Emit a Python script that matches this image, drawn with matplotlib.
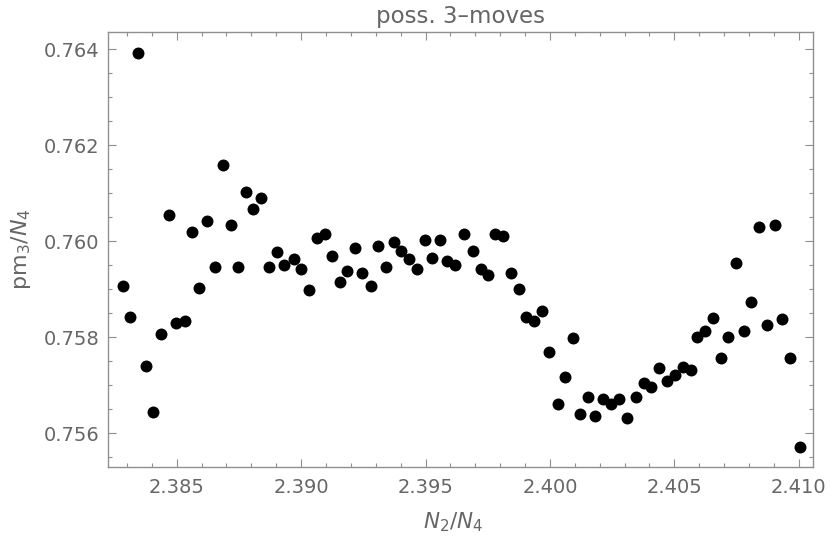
import matplotlib
matplotlib.use("Agg")
import matplotlib.pyplot as plt
from matplotlib.ticker import MultipleLocator, FormatStrFormatter

# data (N2/N4 vs pm3/N4)
n2_over_n4 = [
    2.38283, 2.38312, 2.38346, 2.38377, 2.38406, 2.38437, 2.38468, 2.38498,
    2.38532, 2.38560, 2.38591, 2.38622, 2.38654, 2.38686, 2.38717, 2.38746,
    2.38777, 2.38808, 2.38839, 2.38871, 2.38902, 2.38931, 2.38970, 2.39001,
    2.39032, 2.39063, 2.39095, 2.39126, 2.39157, 2.39186, 2.39217, 2.39246,
    2.39280, 2.39311, 2.39342, 2.39373, 2.39403, 2.39434, 2.39465, 2.39497,
    2.39528, 2.39559, 2.39588, 2.39620, 2.39655, 2.39690, 2.39721, 2.39752,
    2.39780, 2.39813, 2.39843, 2.39875, 2.39905, 2.39937, 2.39968, 2.39998,
    2.40031, 2.40061, 2.40092, 2.40122, 2.40154, 2.40183, 2.40215, 2.40245,
    2.40277, 2.40308, 2.40347, 2.40378, 2.40408, 2.40439, 2.40470, 2.40501,
    2.40533, 2.40565, 2.40592, 2.40624, 2.40655, 2.40686, 2.40717, 2.40749,
    2.40778, 2.40809, 2.40841, 2.40872, 2.40903, 2.40934, 2.40965, 2.41003,
]
pm3_over_n4 = [
    0.75906, 0.75842, 0.76393, 0.75741, 0.75645, 0.75806, 0.76054, 0.75830,
    0.75834, 0.76019, 0.75902, 0.76043, 0.75947, 0.76159, 0.76035, 0.75947,
    0.76102, 0.76067, 0.76091, 0.75947, 0.75978, 0.75950, 0.75963, 0.75942,
    0.75898, 0.76006, 0.76015, 0.75970, 0.75915, 0.75938, 0.75986, 0.75933,
    0.75906, 0.75991, 0.75946, 0.75998, 0.75980, 0.75963, 0.75942, 0.76003,
    0.75966, 0.76003, 0.75959, 0.75950, 0.76015, 0.75979, 0.75942, 0.75930,
    0.76015, 0.76011, 0.75934, 0.75901, 0.75842, 0.75833, 0.75854, 0.75769,
    0.75661, 0.75717, 0.75798, 0.75640, 0.75676, 0.75636, 0.75671, 0.75660,
    0.75671, 0.75632, 0.75676, 0.75705, 0.75696, 0.75736, 0.75708, 0.75721,
    0.75737, 0.75732, 0.75801, 0.75813, 0.75841, 0.75757, 0.75801, 0.75954,
    0.75813, 0.75873, 0.76030, 0.75825, 0.76035, 0.75838, 0.75757, 0.75572,
]

TEXT = "#666666"
FRAME = "#8f8f8f"

plt.rcParams["font.family"] = ["DejaVu Sans"]
plt.rcParams["mathtext.fontset"] = "dejavusans"

fig = plt.figure(figsize=(8.3, 5.48), dpi=100)
ax = fig.add_axes([0.1298, 0.1473, 0.8494, 0.7949])

ax.plot(n2_over_n4, pm3_over_n4, "o", color="black", markersize=8.6,
        markeredgewidth=0)

ax.set_xlim(2.38223, 2.41056)
ax.set_ylim(0.75529, 0.76437)

ax.xaxis.set_major_locator(MultipleLocator(0.005))
ax.xaxis.set_minor_locator(MultipleLocator(0.001))
ax.yaxis.set_major_locator(MultipleLocator(0.002))
ax.yaxis.set_minor_locator(MultipleLocator(0.0005))
ax.xaxis.set_major_formatter(FormatStrFormatter("%.3f"))
ax.yaxis.set_major_formatter(FormatStrFormatter("%.3f"))

ax.tick_params(which="both", direction="in", top=True, right=True,
               color=FRAME, width=0.8, labelcolor=TEXT, labelsize=14)
ax.tick_params(which="major", length=5.6)
ax.tick_params(which="minor", length=3.1)
ax.tick_params(axis="x", which="major", pad=8)
ax.tick_params(axis="y", which="major", pad=6)

for sp in ax.spines.values():
    sp.set_color(FRAME)
    sp.set_linewidth(1.0)

ax.set_xlabel(r"$N_2/N_4$", color=TEXT, fontsize=15.5)
ax.set_ylabel(r"$\mathrm{pm}_3/N_4$", color=TEXT, fontsize=16)
ax.xaxis.set_label_coords(0.49, -0.098)
ax.yaxis.set_label_coords(-0.106, 0.5)

ax.set_title("poss. 3\u2013moves", color=TEXT, fontsize=16.5, pad=6.3)

fig.savefig("out.png", dpi=100)
